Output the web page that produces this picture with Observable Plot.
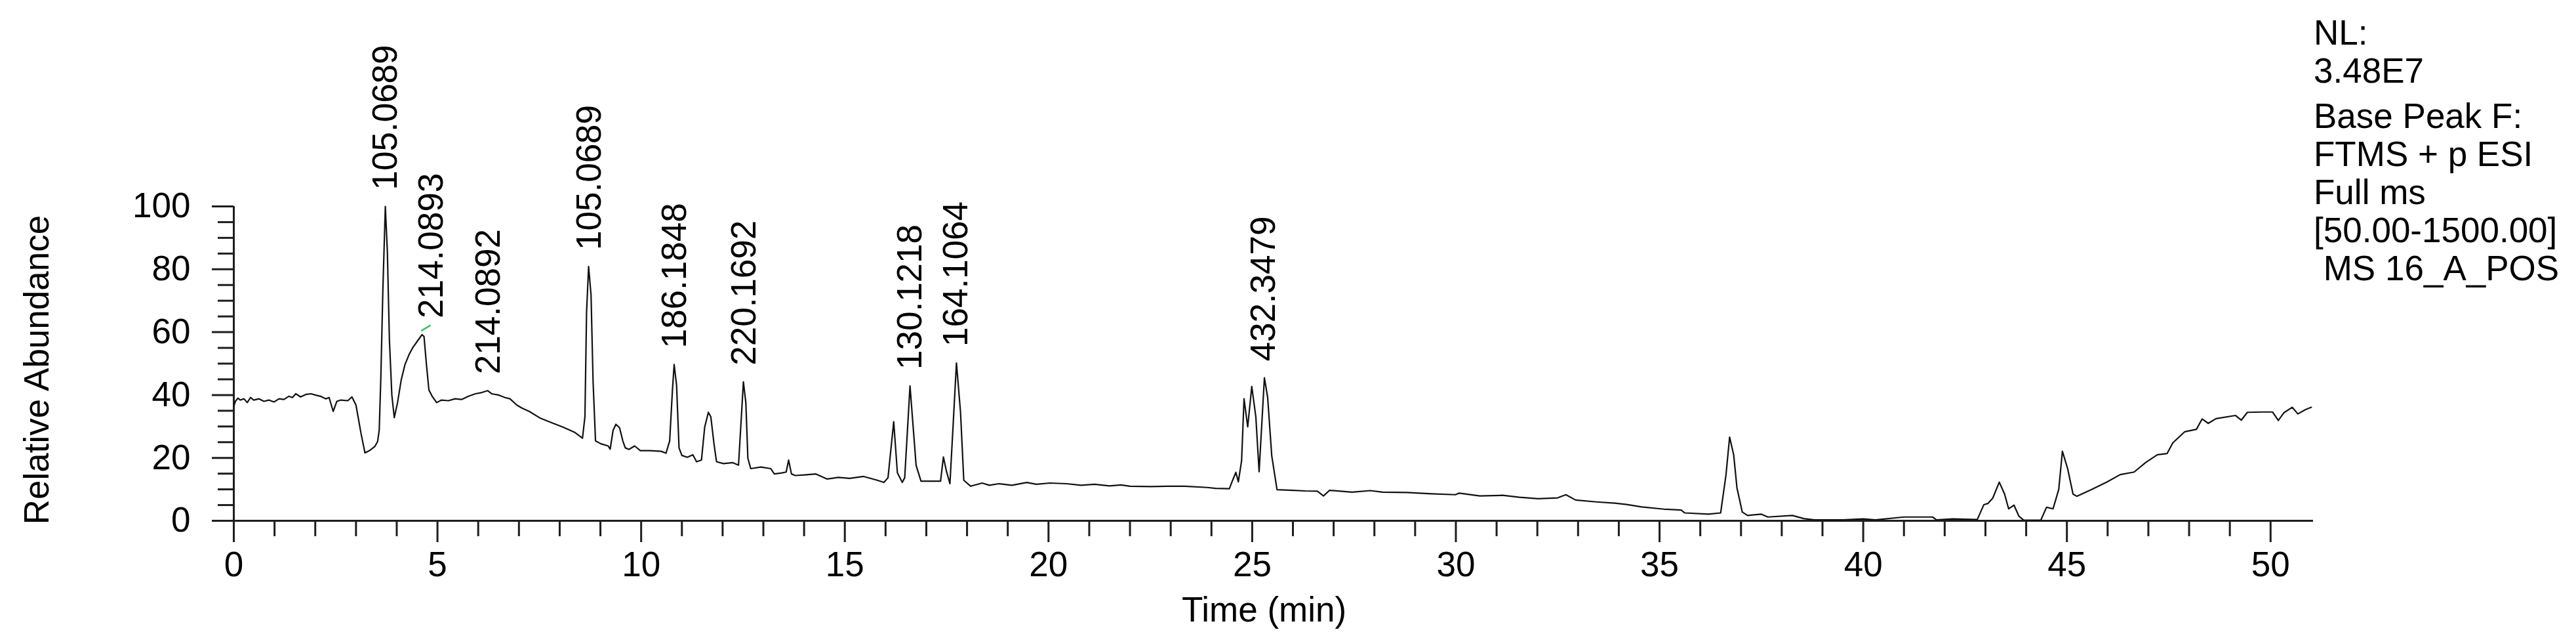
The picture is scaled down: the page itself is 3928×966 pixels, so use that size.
<!DOCTYPE html>
<html><head><meta charset="utf-8">
<script src="https://cdn.jsdelivr.net/npm/d3@7"></script>
<script src="https://cdn.jsdelivr.net/npm/@observablehq/plot@0.6"></script>
<style>
html,body{margin:0;padding:0;background:#fff;}
#wrap{position:relative;width:3928px;height:966px;overflow:hidden;background:#fff;}
#chart svg{display:block;}
#info{position:absolute;left:3528px;top:21px;font-family:"Liberation Sans",Arial,sans-serif;font-size:53px;line-height:58px;color:#000;white-space:pre;}
</style></head><body><div id="wrap"><div id="chart"></div><div id="info"></div></div>
<script>
// ---- data ----
const times = [
  0.00,0.04,0.10,0.16,0.25,0.33,0.41,0.49,0.62,0.74,
  0.86,0.99,1.11,1.23,1.35,1.44,1.52,1.64,1.77,1.90,
  2.00,2.13,2.26,2.34,2.44,2.53,2.63,2.80,2.90,3.00,
  3.12,3.22,3.34,3.46,3.53,3.57,3.61,3.66,3.72,3.77,
  3.82,3.88,3.94,4.02,4.11,4.20,4.30,4.40,4.51,4.62,
  4.67,4.73,4.79,4.87,4.98,5.10,5.27,5.43,5.60,5.76,
  5.93,6.09,6.23,6.33,6.50,6.66,6.78,6.95,7.08,7.25,
  7.53,7.80,8.08,8.36,8.56,8.62,8.66,8.71,8.77,8.82,
  8.88,9.01,9.19,9.24,9.31,9.38,9.47,9.55,9.61,9.70,
  9.84,9.98,10.21,10.49,10.61,10.70,10.77,10.81,10.87,10.93,
  11.00,11.13,11.27,11.36,11.48,11.56,11.65,11.71,11.79,11.85,
  12.02,12.25,12.39,12.46,12.51,12.57,12.62,12.69,12.94,13.18,
  13.27,13.45,13.56,13.62,13.69,13.78,14.01,14.29,14.56,14.84,
  15.12,15.46,15.77,15.96,16.06,16.20,16.29,16.41,16.47,16.60,
  16.75,16.87,17.35,17.42,17.49,17.58,17.65,17.74,17.84,17.92,
  18.09,18.37,18.55,18.78,19.10,19.47,19.70,20.03,20.44,20.80,
  21.13,21.50,21.78,22.00,22.52,22.90,23.35,23.90,24.10,24.44,
  24.52,24.60,24.66,24.74,24.80,24.89,24.99,25.09,25.17,25.30,
  25.38,25.48,25.61,26.00,26.30,26.60,26.75,26.90,27.45,27.90,
  28.20,28.80,29.40,29.99,30.08,30.59,31.14,31.56,32.02,32.50,
  32.70,32.94,33.45,33.90,34.19,34.56,35.11,35.53,35.62,36.20,
  36.50,36.63,36.72,36.82,36.90,37.03,37.16,37.50,37.66,38.26,
  38.54,38.80,39.50,40.00,40.30,41.00,41.70,41.80,42.20,42.80,
  42.96,43.06,43.18,43.34,43.47,43.57,43.70,43.82,43.94,44.36,
  44.50,44.66,44.80,44.89,45.02,45.15,45.24,45.60,45.98,46.31,
  46.65,46.93,47.22,47.46,47.60,47.89,48.18,48.32,48.47,48.66,
  49.14,49.28,49.43,49.81,50.05,50.19,50.33,50.53,50.67,50.86,
  51.00
];
const abundance = [
  36.4,38.0,39.0,38.4,38.8,37.6,39.2,38.4,38.8,38.0,
  38.4,37.8,38.8,38.6,39.6,39.2,40.4,39.4,40.2,40.4,
  40.0,39.6,38.8,39.2,34.8,38.0,38.4,38.2,39.4,36.8,
  28.0,21.6,22.4,23.6,25.2,28.8,45.6,73.6,100,85.6,
  57.6,40.0,32.8,37.6,44.8,49.6,52.8,55.2,57.2,59.2,
  58.6,49.6,41.6,39.6,37.6,38.4,38.2,38.8,38.6,39.6,
  40.4,40.8,41.4,40.4,40.0,39.2,38.8,36.8,35.8,34.8,
  32.6,31.2,29.8,28.2,26.3,33.1,66.3,80.9,71.8,44.2,
  25.4,24.5,23.8,22.8,28.7,30.7,29.6,25.4,23.2,22.7,
  23.8,22.3,22.3,22.1,21.5,25.4,42.0,49.7,43.1,23.2,
  20.8,20.2,21.0,18.8,19.3,29.8,34.5,33.1,24.3,18.8,
  18.2,18.5,17.7,33.1,44.2,37.6,19.9,16.6,17.1,16.6,
  14.9,15.2,15.5,19.3,14.9,14.4,14.6,14.9,13.3,13.8,
  13.5,14.1,13.0,12.2,13.7,31.5,15.3,12.2,13.7,42.9,
  17.6,12.6,12.6,20.3,16.0,11.8,28.4,50.2,34.6,12.9,
  11.0,12.0,11.3,11.8,11.3,12.2,11.6,12.0,11.8,11.3,
  11.6,11.1,11.4,11.0,10.9,11.0,11.0,10.6,10.3,10.2,
  12.9,15.4,12.4,19.1,38.8,29.9,42.7,33.0,15.6,45.5,
  39.2,20.7,9.9,9.7,9.5,9.4,7.9,9.7,9.1,9.6,
  9.1,9.0,8.6,8.3,8.8,7.9,8.1,7.5,7.0,7.3,
  8.3,6.6,6.0,5.6,5.2,4.4,3.7,3.4,2.5,2.1,
  2.5,14.5,26.6,21.0,10.5,2.8,1.7,2.1,1.2,1.7,
  0.7,0.3,0.3,0.6,0.3,1.2,1.2,0.3,0.6,0.4,
  5.1,5.5,7.2,12.3,8.5,3.8,5.0,1.5,0.2,0.2,
  4.3,3.8,10.0,22.1,16.5,8.5,7.8,9.9,12.3,14.7,
  15.5,18.5,21.0,21.4,24.8,28.3,29.1,32.4,31.0,32.5,
  33.5,32.0,34.5,34.6,34.6,31.9,34.4,36.1,34.0,35.4,
  36.1
];

const peakLabels = ["105.0689","214.0893","214.0892","105.0689","186.1848","220.1692","130.1218","164.1064","432.3479"];
const peakTimes  = [3.73, 4.86, 6.26, 8.73, 10.82, 12.53, 16.60, 17.74, 25.28];
const peakValues = [100, 59.2, 41.4, 80.9, 49.7, 44.2, 42.9, 50.2, 45.5];

const leaderFrom = [4.60, 60.4];
const leaderTo   = [4.83, 62.2];

const xMajorTicks = [0,5,10,15,20,25,30,35,40,45,50];
const xMinorTicks = d3.range(1, 51).filter(v => v % 5 !== 0);
const yMajorTicks = [0,20,40,60,80,100];
const yMinorTicks = [5,10,15,25,30,35,45,50,55,65,70,75,85,90,95];

const xLabel = "Time (min)";
const yLabel = "Relative Abundance";
const infoLines = ["NL:","3.48E7","Base Peak F:","FTMS + p ESI","Full ms","[50.00-1500.00]"," MS 16_A_POS"];

// ---- chart ----
const trace = times.map((t, i) => ({t, v: abundance[i]}));
const FONT = "'Liberation Sans', Arial, sans-serif";
const FS = 53;
const AX = "#1e1e1e";

const chart = Plot.plot({
  width: 3928,
  height: 966,
  marginLeft: 356,
  marginRight: 401,
  marginTop: 314,
  marginBottom: 173,
  x: {domain: [0, 51.05]},
  y: {domain: [0, 100]},
  style: {fontFamily: FONT, fontSize: FS + "px", color: "#000", background: "#fff"},
  marks: [
    Plot.axisY({ticks: yMajorTicks, tickSize: 33, tickPadding: 33, label: null, stroke: AX, strokeWidth: 3, fontSize: FS, fill: "#000"}),
    Plot.axisY({ticks: yMinorTicks, tickSize: 24, tickFormat: () => "", label: null, stroke: AX, strokeWidth: 3}),
    Plot.axisX({ticks: xMajorTicks, tickSize: 33, tickPadding: 14, label: null, stroke: AX, strokeWidth: 3, fontSize: FS, fill: "#000"}),
    Plot.axisX({ticks: xMinorTicks, tickSize: 24, tickFormat: () => "", label: null, stroke: AX, strokeWidth: 3}),
    Plot.ruleX([0], {y1: 0, y2: 100, stroke: AX, strokeWidth: 3}),
    Plot.ruleY([0], {x1: 0, x2: 51.05, stroke: AX, strokeWidth: 3}),
    Plot.line(trace, {x: "t", y: "v", stroke: "#111", strokeWidth: 2.2, strokeLinejoin: "round"}),
    Plot.link([0], {x1: () => leaderFrom[0], y1: () => leaderFrom[1], x2: () => leaderTo[0], y2: () => leaderTo[1], stroke: "#3cc060", strokeWidth: 2.5}),
    Plot.text(peakLabels, {x: (d, i) => peakTimes[i], y: (d, i) => peakValues[i], text: d => d, rotate: -90, textAnchor: "start", lineAnchor: "middle", dy: -25, fontSize: FS, fill: "#000"}),
    Plot.text([yLabel], {frameAnchor: "left", text: d => d, rotate: -90, textAnchor: "middle", lineAnchor: "middle", dx: -299, dy: 9.5, fontSize: FS, fill: "#000"}),
    Plot.text([xLabel], {frameAnchor: "bottom", text: d => d, textAnchor: "middle", lineAnchor: "middle", dx: -14.5, dy: 137, fontSize: FS, fill: "#000"})
  ]
});
document.getElementById("chart").appendChild(chart);

const info = document.getElementById("info");
infoLines.forEach((s, i) => {
  const div = document.createElement("div");
  div.textContent = s;
  if (i === 2) div.style.marginTop = "11px";
  info.appendChild(div);
});
</script></body></html>
